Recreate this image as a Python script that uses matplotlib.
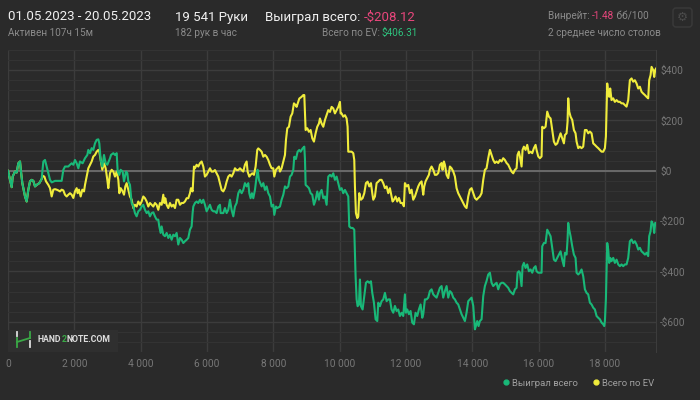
import matplotlib
matplotlib.use("Agg")
import matplotlib.pyplot as plt
from matplotlib.ticker import FuncFormatter, MultipleLocator
from matplotlib.patches import Rectangle, FancyBboxPatch
from matplotlib.lines import Line2D

plt.rcParams['font.family'] = ['Roboto', 'DejaVu Sans']

# ---- data (hands played -> cumulative $) ----
won_hands = [0, 60, 111, 141, 211, 262, 312, 362, 392, 432, 513, 563, 613, 664, 714, 764, 814, 865, 945, 1015,
             1066, 1116, 1166, 1216, 1267, 1317, 1417, 1618, 1669, 1719, 1819, 1870, 1920, 1970, 2020, 2071, 2121,
             2171, 2251, 2322, 2392, 2422, 2473, 2523, 2573, 2623, 2674, 2724, 2754, 2794, 2844, 2895, 2945, 2995,
             3076, 3106, 3176, 3226, 3277, 3307, 3357, 3397, 3457, 3498, 3558, 3598, 3628, 3678, 3729, 3779,
             3829, 3879, 3929, 3980, 4030, 4080, 4130, 4181, 4231, 4281, 4331, 4382, 4432, 4482, 4532, 4562, 4603,
             4633, 4683, 4733, 4784, 4834, 4884, 4934, 4985, 5035, 5085, 5135, 5186, 5236, 5286, 5336, 5387, 5437,
             5487, 5537, 5567, 5588, 5638, 5688, 5738, 5789, 5839, 5889, 5939, 5990, 6040, 6090, 6140, 6191, 6241,
             6291, 6341, 6392, 6412, 6492, 6542, 6593, 6643, 6693, 6743, 6794, 6844, 6894, 6945, 6995, 7045, 7095,
             7145, 7196, 7246, 7276, 7316, 7356, 7397, 7447, 7497, 7527, 7567,
             7648, 7699, 7749, 7799, 7849, 7900, 7950, 8000, 8030, 8080, 8121, 8201, 8251, 8302, 8352, 8402, 8452,
             8503, 8553, 8603, 8633, 8683, 8734, 8784, 8824, 8884, 8935, 8955, 8975, 9025, 9075, 9126, 9176, 9226,
             9276, 9326, 9377, 9407, 9457, 9508, 9558, 9608, 9658, 9709, 9759, 9809, 9859, 9910, 9960, 10010, 10060,
             10110, 10161, 10211, 10261, 10291, 10342, 10392, 10442, 10482, 10513, 10543, 10583, 10613, 10643,
             10693, 10744, 10794, 10844, 10894, 10945, 10985, 11035, 11085, 11136, 11166, 11216, 11266, 11316,
             11367, 11417, 11467,
             11517, 11567, 11618, 11668, 11718, 11768, 11819, 11869, 11919, 11969, 11999, 12040, 12090, 12140,
             12190, 12241, 12291, 12341, 12391, 12442, 12492, 12522, 12572, 12622, 12673, 12723, 12773, 12824,
             12874, 12924, 12974, 13025, 13075, 13125, 13175, 13226, 13276, 13326, 13376, 13427, 13477, 13527,
             13577, 13628, 13678, 13728, 13778, 13828, 13879, 13929, 13979, 14030, 14080, 14110, 14150, 14190,
             14230, 14281, 14331, 14381, 14431, 14482, 14532, 14582, 14632, 14683, 14733, 14783, 14834, 14884,
             14934, 14984, 15035, 15085, 15135, 15186, 15236, 15286, 15336, 15366, 15406,
             15437, 15487, 15517, 15557, 15608, 15658, 15708, 15759, 15809, 15859, 15909, 15939, 15990, 16040,
             16090, 16110, 16161, 16211, 16261, 16311, 16362, 16412, 16462, 16512, 16563, 16613, 16663, 16713,
             16764, 16794, 16844, 16874, 16894, 16924, 16965, 17015, 17065, 17115, 17146, 17196, 17246, 17296,
             17346, 17397, 17447, 17497, 17548, 17598, 17648, 17698, 17749, 17799, 17849, 17899, 17950, 17980,
             18000, 18030, 18070, 18100, 18130, 18160, 18200, 18251, 18301, 18352, 18402, 18452, 18502, 18552,
             18603, 18653, 18703, 18753, 18804, 18854, 18904, 18955, 19005, 19055, 19105, 19156, 19206, 19256,
             19306, 19336, 19377, 19407, 19457, 19487, 19517, 19541]
won = [0, -36, -65, -23, -3, -7, 30, 37, -3, -49, -102, -122, -75, -42, -36, -40, -62, -56, -49, -33,
       37, 43, 17, -9, -36, -46, -40, -40, 4, 17, 17, 24, 30, 24, 43, 30, 10,
       37, 30, 50, 63, 83, 70, 90, 83, 109, 123, 125, 109, 43, 17, 63, 30, 24,
       50, 63, 70, 63, 70, -3, -16, 4, -3, -42, -3, -9, -42, -56, -128, -141,
       -168, -181, -161, -155, -142, -135, -155, -168, -161, -181, -168, -165, -181, -194, -194, -221, -247,
       -221, -254, -260, -247, -267, -254, -274, -254, -260, -247, -293, -267, -274, -287, -280, -274, -267,
       -234, -221, -168, -142, -128, -122, -128, -115, -128, -115, -135, -161, -148, -135, -155, -161, -161,
       -168, -142, -135, -168, -168, -148, -168, -155, -115, -155, -181, -142, -128, -89, -76, -89, -76,
       -49, -62, -49, -89, -109, -89, -109, -76, -23, 4, -36,
       -62, -49, -76, -62, -89, -102, -142, -135, -175, -142, -148, -142, -115, -95, -62, -69, -62,
       -23, -16, 4, 56, 47, 76, 83, 76, 89, 96, 47, -56, -62, -69, -89, -95, -135,
       -115, -82, -115, -89, -76, -109, -102, -135, -23, -16, -23, -10, -36, -23, -49, -76, -69,
       -89, -76, -89, -102, -221, -227, -227, -234, -419, -511, -538, -531, -432, -538,
       -551, -498, -445, -439, -445, -439, -485, -524, -590, -597, -524, -538, -518, -511,
       -485, -518, -511,
       -511, -551, -564, -537, -557, -551, -577, -564, -577, -491, -564, -551, -570, -557,
       -603, -610, -564, -577, -551, -531, -584, -570, -511, -511, -504, -478, -471, -491,
       -498, -504, -485, -465, -458, -504, -478, -458, -504, -478, -485, -504, -511, -524,
       -531, -551, -570, -584, -597, -564, -518, -511, -504, -537, -630, -617, -597, -617,
       -597, -590, -498, -458, -438, -412, -405, -445, -458, -451, -445, -471, -451, -445,
       -445, -451, -458, -465, -478, -485, -491, -471, -465, -405, -399,
       -405, -458, -379, -366, -386, -372, -399, -392, -405, -386, -379, -399, -405, -405,
       -405, -300, -287, -287, -234, -247, -260, -306, -353, -359, -346, -333, -320, -353,
       -379, -326, -333, -273, -207, -234, -260, -300, -333, -346, -405, -412, -405, -392,
       -419, -471, -485, -491, -524, -531, -544, -551, -577, -584, -590, -603, -610, -617,
       -597, -511, -287, -313, -366, -346, -359, -346, -366, -353, -372, -379, -372, -379,
       -372, -372, -346, -280, -273, -287, -280, -293, -313, -306, -320, -326, -333, -326,
       -339, -260, -240, -201, -214, -247, -207, -208]

ev_hands = [0, 60, 111, 141, 211, 262, 312, 362, 392, 432, 513, 563, 613, 664, 714, 764, 814, 865, 945, 1015,
            1045, 1096, 1146, 1216, 1267, 1317, 1367, 1417, 1467, 1518, 1568, 1618, 1669, 1719, 1769, 1819, 1870,
            1920, 1970, 2020, 2071, 2101, 2141, 2191, 2241, 2292, 2322, 2372, 2422, 2473, 2523, 2573, 2623, 2674,
            2724, 2754, 2794, 2844, 2895, 2945, 2995, 3025, 3076, 3126, 3176, 3226, 3277, 3327, 3357, 3397, 3457,
            3498, 3538, 3578, 3628, 3678, 3729,
            3779, 3829, 3879, 3929, 3980, 4030, 4080, 4130, 4181, 4231, 4281, 4331, 4382, 4432, 4482, 4532, 4583,
            4633, 4683, 4713, 4743, 4784, 4834, 4884, 4934, 4985, 5035, 5085, 5135, 5186, 5236, 5286, 5336, 5387,
            5437, 5487, 5517, 5567, 5608, 5638, 5688, 5738, 5789, 5839, 5889, 5939, 5990, 6040, 6090, 6140, 6191,
            6241, 6291, 6341, 6392, 6442, 6492, 6542, 6593, 6643, 6693, 6743, 6794, 6844, 6894, 6945, 6995, 7045,
            7095, 7145, 7196, 7226, 7276, 7316, 7367, 7417, 7467, 7517, 7547,
            7598, 7648, 7699, 7749, 7799, 7849, 7900, 7950, 8000, 8030, 8080, 8121, 8171, 8201, 8251, 8302, 8352,
            8382, 8422, 8472, 8523, 8573, 8623, 8673, 8703, 8754, 8784, 8854, 8905, 8935, 8975, 9025, 9075, 9126,
            9176, 9226, 9276, 9326, 9377, 9407, 9457, 9508, 9558, 9608, 9658, 9709, 9759, 9809, 9859, 9910, 9960,
            10010, 10030, 10060, 10110, 10161, 10211, 10241, 10261, 10311, 10362, 10412, 10442, 10462, 10492,
            10533, 10563, 10593, 10643, 10693, 10744, 10794, 10844, 10894, 10945, 10985, 11015, 11065, 11115,
            11166, 11216, 11266, 11316, 11367, 11417, 11467,
            11517, 11567, 11597, 11638, 11688, 11738, 11788, 11839, 11889, 11939, 11969, 12020, 12070, 12120,
            12170, 12220, 12271, 12321, 12371, 12421, 12472, 12522, 12552, 12592, 12643, 12693, 12723, 12773,
            12824, 12874, 12924, 12974, 13025, 13075, 13105, 13145, 13175, 13226, 13276, 13326, 13376, 13427,
            13477, 13527, 13577, 13628, 13678, 13728, 13778, 13828, 13879, 13929, 13979, 14030, 14080, 14130,
            14180, 14230, 14281, 14331, 14381, 14431, 14482, 14532, 14582, 14632, 14683, 14733, 14783, 14834,
            14884, 14934, 14984, 15035, 15085, 15135, 15186, 15236, 15286, 15336, 15366, 15406,
            15437, 15487, 15517, 15557, 15608, 15658, 15708, 15759, 15809, 15859, 15909, 15939, 15990, 16040,
            16090, 16110, 16161, 16211, 16261, 16311, 16362, 16412, 16462, 16512, 16563, 16613, 16663, 16713,
            16764, 16794, 16844, 16874, 16894, 16924, 16965, 17015, 17065, 17115, 17146, 17196, 17246, 17296,
            17346, 17397, 17447, 17497, 17548, 17598, 17648, 17698, 17749, 17799, 17849, 17899, 17950, 18000,
            18030, 18070, 18100, 18130, 18160, 18200, 18251, 18301, 18352, 18402, 18452, 18502, 18552, 18603,
            18653, 18703, 18753, 18804, 18854, 18904, 18955, 19005, 19055, 19105, 19156, 19206, 19256, 19306,
            19336, 19377, 19407, 19457, 19487, 19517, 19541]
ev = [0, -36, -65, -23, -3, -7, 30, 37, -3, -49, -102, -122, -75, -42, -36, -40, -62, -56, -49, -33,
      -20, -23, -42, -56, -69, -102, -75, -73, -75, -78, -82, -75, -78, -95, -102, -95, -89,
      -95, -108, -82, -69, -89, -75, -102, -75, -82, -56, -23, 10, 24, 37, 57, 63, 76,
      83, 76, 43, 4, 30, 10, -36, -69, -9, 4, -3, -23, -3, -36, -89, -69, -82,
      -95, -62, -49, -75, -102, -115,
      -148, -135, -142, -122, -135, -122, -102, -109, -122, -142, -128, -135, -142, -128, -135, -155, -128,
      -135, -95, -128, -109, -135, -148, -128, -142, -135, -148, -115, -115, -135, -128, -128, -122, -109,
      -109, -89, -69, -82, 17, 10, 24, 17, 30, 37, 17, -23, -16, -3, 10, -3, -3,
      3, -10, -23, -49, -76, -82, -69, -43, -23, -16, -23, -10, 10, 3, 3, 10, 3,
      -3, 24, 37, -3, -23, -16, -10, -16, 17, 83, 89,
      83, 76, 56, 63, 56, 43, 24, 10, 10, -23, 4, 10, 17, -3, 10, 37, 63,
      122, 169, 175, 215, 228, 268, 261, 254, 274, 287, 294, 301, 301, 162, 169, 155, 162,
      129, 116, 149, 175, 188, 208, 188, 175, 202, 221, 241, 234, 254, 248, 228, 241, 254,
      274, 228, 228, 215, 221, 208, 175, 76, 76, 76, 70, 43, -62, -168,
      -188, -181, -89, -115, -109, -89, -49, -43, -62, -49, -89, -115, -102, -49,
      -43, -36, -36, -49, -69, -62, -89,
      -69, -102, -122, -115, -102, -122, -108, -128, -128, -141, -49, -62, -56, -89,
      -75, -115, -102, -82, -62, -49, -42, -95, -62, -42, -29, -16, 4, 17,
      4, -16, -16, -9, 24, 31, 4, 37, 24, -16, -29, 17, 10, -3,
      -23, -69, -89, -102, -115, -128, -141, -148, -102, -75, -69, -89, -108, -115,
      -108, -102, -89, -36, 4, 10, 50, 83, 63, 43, 31, 37, 31, 43,
      37, 50, 43, 31, 24, 10, -3, -10, 4, 10, 63, 76,
      57, 17, 83, 96, 83, 103, 70, 76, 70, 90, 103, 83, 57, 50,
      57, 175, 169, 175, 235, 215, 208, 162, 116, 103, 109, 129, 149, 129,
      109, 142, 149, 195, 288, 235, 215, 202, 162, 149, 116, 90, 96, 90,
      96, 162, 162, 149, 156, 149, 109, 103, 96, 90, 83, 76, 76, 90,
      136, 347, 307, 294, 327, 281, 288, 274, 281, 274, 274, 268, 268, 261,
      255, 281, 360, 367, 354, 360, 347, 327, 334, 314, 307, 301, 294, 288,
      360, 380, 413, 400, 373, 400, 406]

series_names = ['Выиграл всего', 'Всего по EV']
y_ticks = [-600, -400, -200, 0, 200, 400]

BG = '#2a2a2a'
GREEN = '#19b878'
YELLOW = '#f0ec3c'
PINK = '#e8467c'
GREY = '#8a8a8a'
LOGO_GREEN = '#3aa846'

fig = plt.figure(figsize=(7, 4), dpi=100, facecolor=BG)
W, H = 700, 400
ax = fig.add_axes([8 / W, 1 - 352 / H, 648 / W, 302 / H])
ax.set_facecolor(BG)

ax.plot(ev_hands, ev, color=YELLOW, lw=1.5, zorder=3)
ax.plot(won_hands, won, color=GREEN, lw=1.5, zorder=4)

ax.set_xlim(0, 19541)
ax.set_ylim(-720, 480)
ax.xaxis.set_major_locator(MultipleLocator(2000))
ax.set_yticks(y_ticks)
ax.yaxis.set_minor_locator(MultipleLocator(40))
ax.grid(True, which='major', color='#3c3c3c', lw=1.0)
ax.grid(True, which='minor', axis='y', color='#333333', lw=0.8)
ax.axhline(0, color='#6a6a6a', lw=1.4, zorder=2)
ax.set_axisbelow(True)

ax.xaxis.set_major_formatter(FuncFormatter(lambda v, p: f'{int(v):,}'.replace(',', ' ')))
ax.yaxis.set_major_formatter(FuncFormatter(lambda v, p: ('-$' if v < 0 else '$') + f'{abs(int(v))}'))
ax.yaxis.tick_right()
ax.tick_params(axis='both', which='both', length=0, labelsize=7.3, labelcolor='#777777')
ax.tick_params(axis='x', pad=5)
ax.tick_params(axis='y', pad=3)
for s in ['top', 'left', 'bottom']:
    ax.spines[s].set_visible(False)
ax.spines['right'].set_color('#3c3c3c')

# legend
handles = [Line2D([], [], marker='o', ms=3.5, color=GREEN, lw=0),
           Line2D([], [], marker='o', ms=3.5, color=YELLOW, lw=0)]
fig.legend(handles, series_names, loc='center right', bbox_to_anchor=(663 / W, 1 - 383 / H),
           ncol=2, frameon=False, fontsize=6.8, labelcolor='#a0a0a0', handletextpad=0.15,
           columnspacing=1.4, handlelength=1.0)

# overlay in pixel coords for header and watermark
ov = fig.add_axes([0, 0, 1, 1], facecolor='none')
ov.set_xlim(0, W)
ov.set_ylim(H, 0)
ov.axis('off')
renderer = fig.canvas.get_renderer()


def text_width(s, size, weight='normal'):
    t = ov.text(0, 0, s, fontsize=size, fontweight=weight)
    w = t.get_window_extent(renderer).width
    t.remove()
    return w


def text_run(x, y, parts, size, weight='normal'):
    # pieces of text side by side in different colours; offsets from the full string
    full = ''.join(s for s, c in parts)
    wfull = text_width(full, size, weight)
    rest = full
    for s, c in parts:
        x0 = x + wfull - text_width(rest, size, weight)
        ov.text(x0, y, s, color=c, fontsize=size, fontweight=weight, va='center')
        rest = rest[len(s):]


ov.text(8, 17, '01.05.2023 - 20.05.2023', color='#f0f0f0', fontsize=9.5, va='center')
ov.text(8, 33, 'Активен 107ч 15м', color=GREY, fontsize=7.2, va='center')
ov.text(175, 17, '19 541 Руки', color='#f0f0f0', fontsize=9.5, va='center')
ov.text(175, 33, '182 рук в час', color=GREY, fontsize=7.2, va='center')
ov.text(364, 17, 'Выиграл всего: ', color='#f0f0f0', fontsize=9.5, va='center', ha='right')
ov.text(364, 17, '-$208.12', color=PINK, fontsize=9.5, va='center')
ov.text(382, 33, 'Всего по EV: ', color=GREY, fontsize=7.2, va='center', ha='right')
ov.text(382, 33, '$406.31', color='#2ec27e', fontsize=7.2, va='center')
text_run(548, 16, [('Винрейт: ', GREY), ('-1.48', PINK), (' бб/100', GREY)], 7.2)
ov.text(548, 33, '2 среднее число столов', color=GREY, fontsize=7.2, va='center')

# settings button
ov.add_patch(FancyBboxPatch((673, 8), 19, 19, boxstyle='round,pad=0,rounding_size=3',
                            fc='none', ec='#3a3a3a', lw=1))
ov.text(682.5, 17.8, '\u2699', color='#4a4a4a', fontsize=9, ha='center', va='center',
        family='DejaVu Sans')

# watermark
ov.add_patch(Rectangle((8, 330), 110, 22, fc='#2f2f2f', ec='none'))
ov.plot([17, 17], [331.5, 336], color='#dddddd', lw=1.3)
ov.plot([17, 17], [338, 346.5], color=LOGO_GREEN, lw=1.3)
ov.plot([17, 30], [342, 338], color=LOGO_GREEN, lw=1.3)
ov.plot([30, 30], [331.5, 338], color=LOGO_GREEN, lw=1.3)
ov.plot([30, 30], [341, 346.5], color='#dddddd', lw=1.3)
text_run(38, 339.5, [('HAND', '#dddddd'), ('2', LOGO_GREEN), ('NOTE.COM', '#dddddd')], 6.3, 'bold')

fig.savefig('out.png', dpi=100, facecolor=BG)
